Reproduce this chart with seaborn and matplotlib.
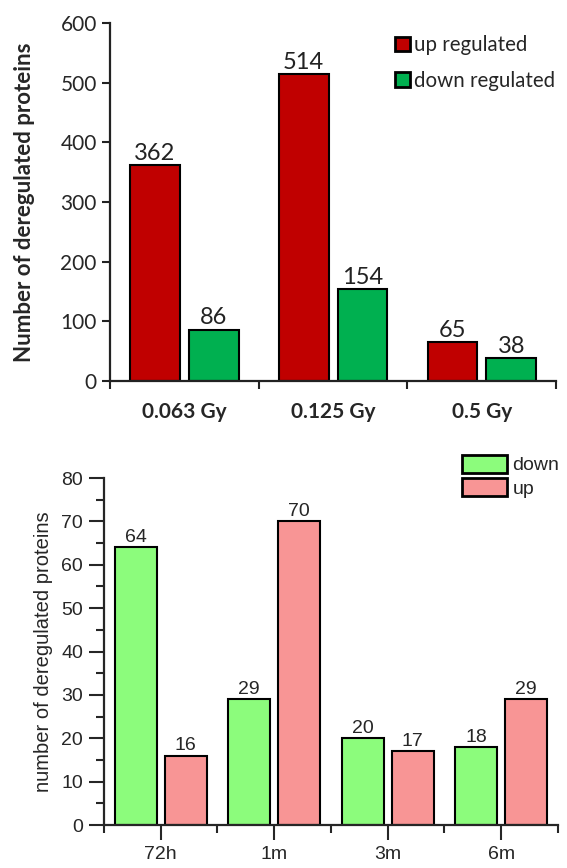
import pandas as pd
import seaborn as sns
import matplotlib.pyplot as plt
from matplotlib.ticker import MultipleLocator, FixedLocator

# top panel: dose
doses = ["0.063 Gy", "0.125 Gy", "0.5 Gy"]
up_regulated = [362, 514, 65]
down_regulated = [86, 154, 38]

# bottom panel: time after exposure
times = ["72h", "1m", "3m", "6m"]
down_counts = [64, 29, 20, 18]
up_counts = [16, 70, 17, 29]

df_dose = pd.DataFrame({
    "dose": doses * 2,
    "count": up_regulated + down_regulated,
    "kind": ["up regulated"] * 3 + ["down regulated"] * 3,
})
df_time = pd.DataFrame({
    "time": times * 2,
    "count": down_counts + up_counts,
    "kind": ["down"] * 4 + ["up"] * 4,
})

sns.set_style("ticks")
plt.rcParams["font.family"] = ["Lato", "DejaVu Sans"]

fig = plt.figure(figsize=(5.67, 8.68), dpi=100)
ax1 = fig.add_axes([0.194, 0.561, 0.787, 0.4125])
ax2 = fig.add_axes([0.1834, 0.0495, 0.8006, 0.3998])

### top chart

sns.barplot(data=df_dose, x="dose", y="count", hue="kind",
            hue_order=["up regulated", "down regulated"],
            palette=["#C00000", "#00B050"], saturation=1, width=0.79, gap=0.15,
            edgecolor="black", linewidth=1.5, ax=ax1)
for c in ax1.containers:
    ax1.bar_label(c, padding=1, fontsize=17, color="#222222")
ax1.set_ylim(0, 600)
ax1.set_xlim(-0.5, 2.5)
ax1.yaxis.set_major_locator(MultipleLocator(100))
ax1.xaxis.set_minor_locator(FixedLocator([-0.5, 0.5, 1.5, 2.5]))
ax1.tick_params(axis="x", which="major", length=0, pad=15, labelsize=15)
ax1.tick_params(axis="x", which="minor", length=6, width=1.5, color="#222222")
ax1.tick_params(axis="y", length=6, width=1.5, labelsize=15, color="#222222")
for t in ax1.get_xticklabels():
    t.set_fontweight("bold")
ax1.set_xlabel("")
ax1.set_ylabel("Number of deregulated proteins", fontsize=16, fontweight="bold", labelpad=18)
for s in ["left", "bottom"]:
    ax1.spines[s].set_linewidth(1.6)
    ax1.spines[s].set_color("#222222")
sns.despine(ax=ax1)
h, l = ax1.get_legend_handles_labels()
for p in h:
    p.set_linewidth(2)
ax1.legend(h, l, loc="upper right", bbox_to_anchor=(1.025, 1.0), frameon=False,
           fontsize=14.8, handlelength=0.7, handleheight=0.7, handletextpad=0.2,
           labelspacing=0.75, borderaxespad=0.2)

### bottom chart

sns.barplot(data=df_time, x="time", y="count", hue="kind",
            hue_order=["down", "up"],
            palette=["#8CFC7C", "#F89595"], saturation=1, width=0.88, gap=0.16,
            edgecolor="black", linewidth=1.5, ax=ax2)
for c in ax2.containers:
    ax2.bar_label(c, padding=1, fontsize=14, fontfamily="Liberation Sans")
ax2.set_ylim(0, 80)
ax2.set_xlim(-0.5, 3.5)
ax2.yaxis.set_major_locator(MultipleLocator(10))
ax2.yaxis.set_minor_locator(MultipleLocator(5))
ax2.xaxis.set_minor_locator(FixedLocator([-0.5, 0.5, 1.5, 2.5, 3.5]))
ax2.tick_params(which="major", length=11, width=1.5, labelsize=14, pad=4)
ax2.tick_params(which="minor", length=6, width=1.5)
ax2.tick_params(axis="x", which="major", pad=4)
for t in ax2.get_xticklabels() + ax2.get_yticklabels():
    t.set_fontfamily("Liberation Sans")
ax2.set_xlabel("")
ax2.set_ylabel("number of deregulated proteins", fontsize=14.5,
               fontfamily="Liberation Sans", labelpad=6)
for s in ["left", "bottom"]:
    ax2.spines[s].set_linewidth(1.6)
sns.despine(ax=ax2)
h, l = ax2.get_legend_handles_labels()
for p in h:
    p.set_linewidth(2)
ax2.legend(h, l, loc="upper right", bbox_to_anchor=(1.02, 1.09), frameon=False,
           prop={"family": "Liberation Sans", "size": 14},
           handlelength=2.3, handleheight=1.05, handletextpad=0.3,
           labelspacing=0.2, borderaxespad=0)

fig.savefig("out.png", dpi=100)
